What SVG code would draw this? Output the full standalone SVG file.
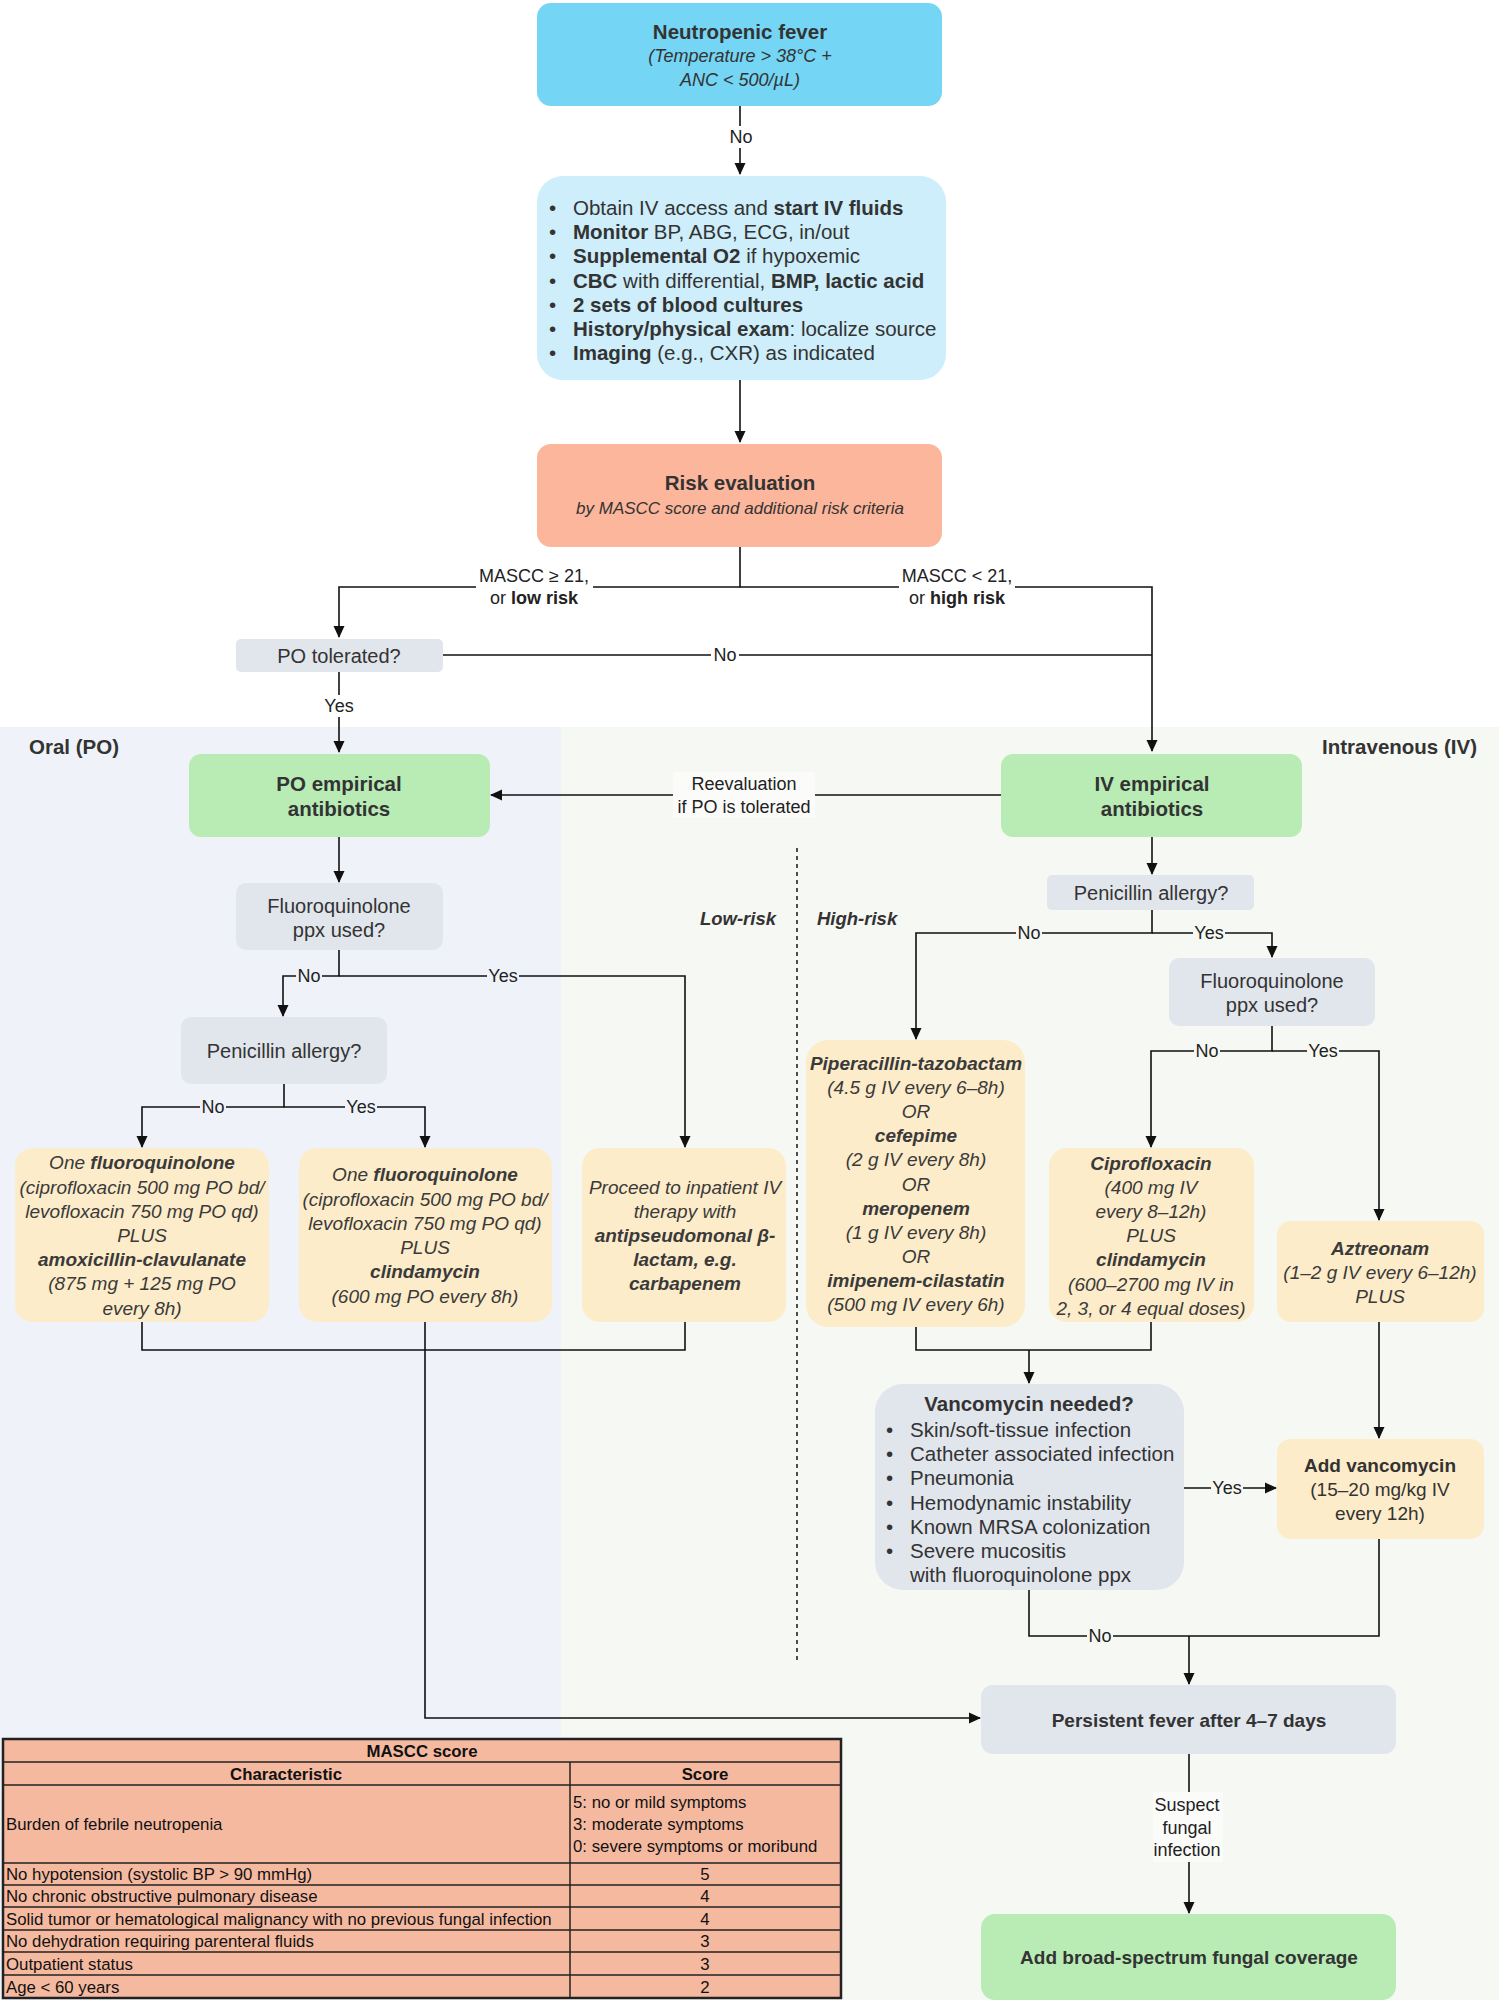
<svg xmlns="http://www.w3.org/2000/svg" width="1499" height="2000" viewBox="0 0 1499 2000">
<style>
text{font-family:"Liberation Sans",Arial,Helvetica,sans-serif;fill:#333;dominant-baseline:central}
.t{font-size:20.5px;font-weight:bold;text-anchor:middle}
.q{font-size:20px;text-anchor:middle}
.sub{font-size:18px;font-style:italic;text-anchor:middle}
.li{font-size:20.5px}
.d{font-size:19px;font-style:italic;text-anchor:middle;fill:#3a3a3a}
.b{font-weight:bold}
.lb{font-size:18px;text-anchor:middle;fill:#222}
.tb{font-size:16.8px;fill:#111}
.tbh{font-size:16.8px;font-weight:bold;fill:#111;text-anchor:middle}
.c{text-anchor:middle}
.ln{fill:none;stroke:#111;stroke-width:1.6}
.cyan{fill:#74d5f4}
.lblue{fill:#cdeefa}
.salmon{fill:#fcb69b}
.green{fill:#b9ecb5}
.gray{fill:#e1e5ec}
.yel{fill:#fdecc9}
</style>
<defs>
<marker id="ah" markerWidth="12" markerHeight="12" refX="11" refY="6" orient="auto" markerUnits="userSpaceOnUse">
<path d="M0,0.5 L12,6 L0,11.5 Z" fill="#111"/>
</marker>
</defs>
<rect x="0" y="0" width="1499" height="2000" fill="#ffffff"/>
<!-- panels -->
<rect x="0" y="727" width="561" height="1273" fill="#eff3f9"/>
<rect x="561" y="727" width="938" height="1273" fill="#f6f8f3"/>
<text x="29" y="746" style="font-size:20.5px;font-weight:bold">Oral (PO)</text>
<text x="1477" y="746" style="font-size:20.5px;font-weight:bold;text-anchor:end">Intravenous (IV)</text>
<line x1="797" y1="848" x2="797" y2="1660" stroke="#222" stroke-width="1.6" stroke-dasharray="4,4"/>
<text x="776" y="918" style="font-size:18.5px;font-weight:bold;font-style:italic;text-anchor:end">Low-risk</text>
<text x="817" y="918" style="font-size:18.5px;font-weight:bold;font-style:italic">High-risk</text>

<!-- connectors -->
<g id="connectors">
<path class="ln" d="M740 106 V174" marker-end="url(#ah)"/>
<path class="ln" d="M740 380 V442" marker-end="url(#ah)"/>
<path class="ln" d="M740 547 V587 H339 V637" marker-end="url(#ah)"/>
<path class="ln" d="M740 587 H1152 V751" marker-end="url(#ah)"/>
<path class="ln" d="M443 655 H1152"/>
<path class="ln" d="M339 672 V752" marker-end="url(#ah)"/>
<path class="ln" d="M1001 795 H491" marker-end="url(#ah)"/>
<path class="ln" d="M339 837 V882" marker-end="url(#ah)"/>
<path class="ln" d="M339 950 V976 H283 V1016" marker-end="url(#ah)"/>
<path class="ln" d="M339 976 H685 V1147" marker-end="url(#ah)"/>
<path class="ln" d="M284 1084 V1107 H142 V1147" marker-end="url(#ah)"/>
<path class="ln" d="M284 1107 H425 V1147" marker-end="url(#ah)"/>
<path class="ln" d="M142 1322 V1350 H685 V1322"/>
<path class="ln" d="M425 1322 V1718 H980" marker-end="url(#ah)"/>
<path class="ln" d="M1152 837 V874" marker-end="url(#ah)"/>
<path class="ln" d="M1152 910 V933 H916 V1039" marker-end="url(#ah)"/>
<path class="ln" d="M1152 933 H1272 V957" marker-end="url(#ah)"/>
<path class="ln" d="M1272 1026 V1051 H1151 V1147" marker-end="url(#ah)"/>
<path class="ln" d="M1272 1051 H1379 V1220" marker-end="url(#ah)"/>
<path class="ln" d="M916 1327 V1350 H1151 V1322"/>
<path class="ln" d="M1029 1350 V1383" marker-end="url(#ah)"/>
<path class="ln" d="M1379 1322 V1438" marker-end="url(#ah)"/>
<path class="ln" d="M1184 1488 H1276" marker-end="url(#ah)"/>
<path class="ln" d="M1029 1590 V1636 H1379 V1539"/>
<path class="ln" d="M1189 1636 V1684" marker-end="url(#ah)"/>
<path class="ln" d="M1189 1754 V1913" marker-end="url(#ah)"/>
<!-- labels -->
<rect x="728" y="126" width="26" height="22" fill="#fff"/>
<text class="lb" x="741" y="137">No</text>
<rect x="476" y="565" width="117" height="46" fill="#fff"/>
<text class="lb" x="534" y="576">MASCC ≥ 21,</text>
<text class="lb" x="534" y="598">or <tspan class="b">low risk</tspan></text>
<rect x="899" y="565" width="116" height="46" fill="#fff"/>
<text class="lb" x="957" y="576">MASCC &lt; 21,</text>
<text class="lb" x="957" y="598">or <tspan class="b">high risk</tspan></text>
<rect x="711" y="645" width="28" height="20" fill="#fff"/>
<text class="lb" x="725" y="655">No</text>
<rect x="322" y="695" width="34" height="22" fill="#fff"/>
<text class="lb" x="339" y="706">Yes</text>
<rect x="673" y="772" width="142" height="46" fill="#fbfcfa"/>
<text class="lb" x="744" y="784">Reevaluation</text>
<text class="lb" x="744" y="807">if PO is tolerated</text>
<rect x="296" y="967" width="26" height="18" fill="#eff3f9"/>
<text class="lb" x="309" y="976">No</text>
<rect x="487" y="967" width="32" height="18" fill="#eff3f9"/>
<text class="lb" x="503" y="976">Yes</text>
<rect x="200" y="1098" width="26" height="18" fill="#eff3f9"/>
<text class="lb" x="213" y="1107">No</text>
<rect x="345" y="1098" width="32" height="18" fill="#eff3f9"/>
<text class="lb" x="361" y="1107">Yes</text>
<rect x="1016" y="924" width="26" height="18" fill="#f6f8f3"/>
<text class="lb" x="1029" y="933">No</text>
<rect x="1193" y="924" width="32" height="18" fill="#f6f8f3"/>
<text class="lb" x="1209" y="933">Yes</text>
<rect x="1194" y="1042" width="26" height="18" fill="#f6f8f3"/>
<text class="lb" x="1207" y="1051">No</text>
<rect x="1307" y="1042" width="32" height="18" fill="#f6f8f3"/>
<text class="lb" x="1323" y="1051">Yes</text>
<rect x="1211" y="1479" width="32" height="18" fill="#f6f8f3"/>
<text class="lb" x="1227" y="1488">Yes</text>
<rect x="1087" y="1627" width="26" height="18" fill="#f6f8f3"/>
<text class="lb" x="1100" y="1636">No</text>
<rect x="1153" y="1792" width="70" height="70" fill="#fbfcfa"/>
<text class="lb" x="1187" y="1805">Suspect</text>
<text class="lb" x="1187" y="1828">fungal</text>
<text class="lb" x="1187" y="1850">infection</text>
</g>

<!-- nodes -->
<g id="neutropenic">
<rect class="cyan" x="537" y="3" width="405" height="103" rx="14"/>
<text class="t" x="740" y="31">Neutropenic fever</text>
<text class="sub" x="740" y="56">(Temperature &gt; 38°C +</text>
<text class="sub" x="740" y="80">ANC &lt; 500/µL)</text>
</g>
<g id="initial">
<rect class="lblue" x="537" y="176" width="409" height="204" rx="26"/>
<g class="li">
<text x="549" y="207">•</text><text x="573" y="207">Obtain IV access and <tspan class="b">start IV fluids</tspan></text>
<text x="549" y="231">•</text><text x="573" y="231"><tspan class="b">Monitor</tspan> BP, ABG, ECG, in/out</text>
<text x="549" y="255">•</text><text x="573" y="255"><tspan class="b">Supplemental O2</tspan> if hypoxemic</text>
<text x="549" y="280">•</text><text x="573" y="280"><tspan class="b">CBC</tspan> with differential, <tspan class="b">BMP, lactic acid</tspan></text>
<text x="549" y="304">•</text><text x="573" y="304"><tspan class="b">2 sets of blood cultures</tspan></text>
<text x="549" y="328">•</text><text x="573" y="328"><tspan class="b">History/physical exam</tspan>: localize source</text>
<text x="549" y="352">•</text><text x="573" y="352"><tspan class="b">Imaging</tspan> (e.g., CXR) as indicated</text>
</g>
</g>
<g id="risk">
<rect class="salmon" x="537" y="444" width="405" height="103" rx="14"/>
<text class="t" x="740" y="482">Risk evaluation</text>
<text class="sub" x="740" y="508" style="font-size:17px">by MASCC score and additional risk criteria</text>
</g>
<g id="po-tolerated">
<rect class="gray" x="236" y="639" width="207" height="33" rx="5"/>
<text class="q" x="339" y="656">PO tolerated?</text>
</g>
<g id="po-empirical">
<rect class="green" x="189" y="754" width="301" height="83" rx="12"/>
<text class="t" x="339" y="783">PO empirical</text>
<text class="t" x="339" y="808">antibiotics</text>
</g>
<g id="iv-empirical">
<rect class="green" x="1001" y="754" width="301" height="83" rx="12"/>
<text class="t" x="1152" y="783">IV empirical</text>
<text class="t" x="1152" y="808">antibiotics</text>
</g>
<g id="fq-po">
<rect class="gray" x="236" y="883" width="207" height="67" rx="10"/>
<text class="q" x="339" y="906">Fluoroquinolone</text>
<text class="q" x="339" y="930">ppx used?</text>
</g>
<g id="pen-po">
<rect class="gray" x="181" y="1017" width="206" height="67" rx="10"/>
<text class="q" x="284" y="1051">Penicillin allergy?</text>
</g>
<g id="po-fq-amox">
<rect class="yel" x="15" y="1148" width="254" height="174" rx="18"/>
<text class="d" x="142" y="1162">One <tspan class="b">fluoroquinolone</tspan></text>
<text class="d" x="142" y="1187">(ciprofloxacin 500 mg PO bd/</text>
<text class="d" x="142" y="1211">levofloxacin 750 mg PO qd)</text>
<text class="d" x="142" y="1235">PLUS</text>
<text class="d b" x="142" y="1259">amoxicillin-clavulanate</text>
<text class="d" x="142" y="1283">(875 mg + 125 mg PO</text>
<text class="d" x="142" y="1308">every 8h)</text>
</g>
<g id="po-fq-clinda">
<rect class="yel" x="299" y="1148" width="253" height="174" rx="18"/>
<text class="d" x="425" y="1174">One <tspan class="b">fluoroquinolone</tspan></text>
<text class="d" x="425" y="1199">(ciprofloxacin 500 mg PO bd/</text>
<text class="d" x="425" y="1223">levofloxacin 750 mg PO qd)</text>
<text class="d" x="425" y="1247">PLUS</text>
<text class="d b" x="425" y="1271">clindamycin</text>
<text class="d" x="425" y="1296">(600 mg PO every 8h)</text>
</g>
<g id="po-inpatient">
<rect class="yel" x="582" y="1148" width="204" height="174" rx="18"/>
<text class="d" x="685" y="1187">Proceed to inpatient IV</text>
<text class="d" x="685" y="1211">therapy with</text>
<text class="d b" x="685" y="1235">antipseudomonal β-</text>
<text class="d b" x="685" y="1259">lactam, e.g.</text>
<text class="d b" x="685" y="1283">carbapenem</text>
</g>
<g id="pen-iv">
<rect class="gray" x="1047" y="875" width="207" height="35" rx="5"/>
<text class="q" x="1151" y="893">Penicillin allergy?</text>
</g>
<g id="fq-iv">
<rect class="gray" x="1169" y="958" width="206" height="68" rx="10"/>
<text class="q" x="1272" y="981">Fluoroquinolone</text>
<text class="q" x="1272" y="1005">ppx used?</text>
</g>
<g id="iv-betalactam">
<rect class="yel" x="806" y="1040" width="219" height="287" rx="22"/>
<text class="d b" x="916" y="1063">Piperacillin-tazobactam</text>
<text class="d" x="916" y="1087">(4.5 g IV every 6–8h)</text>
<text class="d" x="916" y="1111">OR</text>
<text class="d b" x="916" y="1135">cefepime</text>
<text class="d" x="916" y="1159">(2 g IV every 8h)</text>
<text class="d" x="916" y="1184">OR</text>
<text class="d b" x="916" y="1208">meropenem</text>
<text class="d" x="916" y="1232">(1 g IV every 8h)</text>
<text class="d" x="916" y="1256">OR</text>
<text class="d b" x="916" y="1280">imipenem-cilastatin</text>
<text class="d" x="916" y="1304">(500 mg IV every 6h)</text>
</g>
<g id="iv-cipro">
<rect class="yel" x="1049" y="1148" width="205" height="174" rx="18"/>
<text class="d b" x="1151" y="1163">Ciprofloxacin</text>
<text class="d" x="1151" y="1187">(400 mg IV</text>
<text class="d" x="1151" y="1211">every 8–12h)</text>
<text class="d" x="1151" y="1235">PLUS</text>
<text class="d b" x="1151" y="1259">clindamycin</text>
<text class="d" x="1151" y="1284">(600–2700 mg IV in</text>
<text class="d" x="1151" y="1308">2, 3, or 4 equal doses)</text>
</g>
<g id="iv-aztreonam">
<rect class="yel" x="1277" y="1221" width="207" height="101" rx="14"/>
<text class="d b" x="1380" y="1248">Aztreonam</text>
<text class="d" x="1380" y="1272">(1–2 g IV every 6–12h)</text>
<text class="d" x="1380" y="1296">PLUS</text>
</g>
<g id="vanco-needed">
<rect class="gray" x="875" y="1384" width="309" height="206" rx="28"/>
<text class="t" x="1029" y="1403">Vancomycin needed?</text>
<g style="font-size:20.5px">
<text x="886" y="1429">•</text><text x="910" y="1429">Skin/soft-tissue infection</text>
<text x="886" y="1453">•</text><text x="910" y="1453">Catheter associated infection</text>
<text x="886" y="1477">•</text><text x="910" y="1477">Pneumonia</text>
<text x="886" y="1502">•</text><text x="910" y="1502">Hemodynamic instability</text>
<text x="886" y="1526">•</text><text x="910" y="1526">Known MRSA colonization</text>
<text x="886" y="1550">•</text><text x="910" y="1550">Severe mucositis</text>
<text x="910" y="1574">with fluoroquinolone ppx</text>
</g>
</g>
<g id="add-vanco">
<rect class="yel" x="1277" y="1439" width="207" height="100" rx="14"/>
<text class="c b" x="1380" y="1465" style="font-size:19px">Add vancomycin</text>
<text class="c" x="1380" y="1489" style="font-size:19px">(15–20 mg/kg IV</text>
<text class="c" x="1380" y="1513" style="font-size:19px">every 12h)</text>
</g>
<g id="persistent">
<rect class="gray" x="981" y="1685" width="415" height="69" rx="12"/>
<text class="t" x="1189" y="1720" style="font-size:19px">Persistent fever after 4–7 days</text>
</g>
<g id="fungal">
<rect class="green" x="981" y="1914" width="415" height="86" rx="14"/>
<text class="t" x="1189" y="1957" style="font-size:19px">Add broad-spectrum fungal coverage</text>
</g>

<!-- MASCC table -->
<g id="mascc-table">
<rect x="3" y="1739" width="838" height="259" fill="#f5b9a0" stroke="#222" stroke-width="2.5"/>
<g stroke="#222" stroke-width="1.5">
<line x1="3" y1="1762" x2="841" y2="1762"/>
<line x1="3" y1="1785" x2="841" y2="1785"/>
<line x1="3" y1="1863" x2="841" y2="1863"/>
<line x1="3" y1="1885" x2="841" y2="1885"/>
<line x1="3" y1="1907" x2="841" y2="1907"/>
<line x1="3" y1="1930" x2="841" y2="1930"/>
<line x1="3" y1="1952" x2="841" y2="1952"/>
<line x1="3" y1="1975" x2="841" y2="1975"/>
<line x1="570" y1="1762" x2="570" y2="1998"/>
</g>
<text class="tbh" x="422" y="1751">MASCC score</text>
<text class="tbh" x="286" y="1774">Characteristic</text>
<text class="tbh" x="705" y="1774">Score</text>
<text class="tb" x="6" y="1824">Burden of febrile neutropenia</text>
<text class="tb" x="573" y="1802">5: no or mild symptoms</text>
<text class="tb" x="573" y="1824">3: moderate symptoms</text>
<text class="tb" x="573" y="1846">0: severe symptoms or moribund</text>
<text class="tb" x="6" y="1874">No hypotension (systolic BP &gt; 90 mmHg)</text>
<text class="tb c" x="705" y="1874">5</text>
<text class="tb" x="6" y="1896">No chronic obstructive pulmonary disease</text>
<text class="tb c" x="705" y="1896">4</text>
<text class="tb" x="6" y="1919">Solid tumor or hematological malignancy with no previous fungal infection</text>
<text class="tb c" x="705" y="1919">4</text>
<text class="tb" x="6" y="1941">No dehydration requiring parenteral fluids</text>
<text class="tb c" x="705" y="1941">3</text>
<text class="tb" x="6" y="1964">Outpatient status</text>
<text class="tb c" x="705" y="1964">3</text>
<text class="tb" x="6" y="1987">Age &lt; 60 years</text>
<text class="tb c" x="705" y="1987">2</text>
</g>
</svg>
